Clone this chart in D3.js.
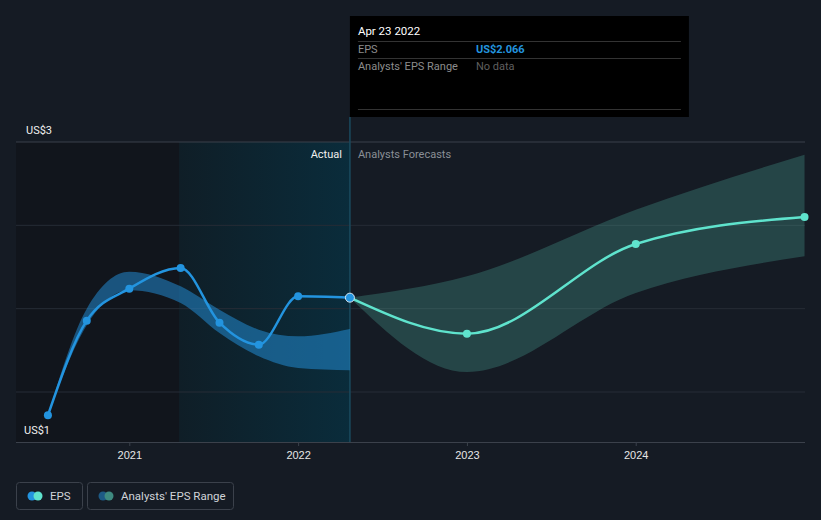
<!DOCTYPE html>
<html><head><meta charset="utf-8">
<script src="https://cdn.jsdelivr.net/npm/d3@7"></script>
<style>
html,body{margin:0;padding:0;background:#151b24;}
svg{display:block;font-family:Roboto,"Open Sans",sans-serif;}
</style></head><body>
<svg id="c" width="821" height="520"></svg>
<script>
// ---- data ----
const actualDates = ["2020-07-09","2020-10-01","2021-01-01","2021-04-22","2021-07-15","2021-10-08","2022-01-01","2022-04-23"];
const actualEPS   = [1.36, 1.928, 2.12, 2.244, 1.916, 1.784, 2.074, 2.066];
const pastRangeDates = ["2020-07-09","2020-10-01","2021-01-01","2021-04-22","2021-07-15","2021-10-08","2022-01-01","2022-04-23"];
const pastRangeLow   = [1.36, 1.90, 2.11, 2.034, 1.854, 1.714, 1.644, 1.63];
const pastRangeHigh  = [1.36, 2.00, 2.222, 2.134, 1.994, 1.874, 1.834, 1.878];
const forecastDates = ["2022-04-23","2023-01-01","2024-01-01","2024-12-31"];
const forecastEPS   = [2.066, 1.85, 2.388, 2.55];
const forecastLow   = [2.066, 1.62, 2.094, 2.314];
const forecastHigh  = [2.066, 2.194, 2.594, 2.924];
const gridValues = [1.5, 2, 2.5, 3];
const yLabels = ["US$3", "US$1"];
const xTickYears = ["2021","2022","2023","2024"];
const legendItems = ["EPS", "Analysts' EPS Range"];
const tooltip = {date:"Apr 23 2022", eps:"US$2.066", range:"No data"};

const parse = d3.timeParse("%Y-%m-%d");
const svg = d3.select("#c");
const L = 16, R = 805, T = 142, B = 442;
const x = d3.scaleTime().domain([parse("2020-05-01"), parse("2025-01-01")]).range([L, R]);
const y = d3.scaleLinear().domain([1.2, 3]).range([B, T]);
const nowDate = parse("2022-04-23");
const pastStart = parse("2021-04-19");

const defs = svg.append("defs");
const g1 = defs.append("linearGradient").attr("id","hl").attr("x1","0").attr("x2","1").attr("y1","0").attr("y2","0");
g1.append("stop").attr("offset","0").attr("stop-color","#0f1e27");
g1.append("stop").attr("offset","1").attr("stop-color","#0a2c3b");

// background regions
svg.append("rect").attr("x", L).attr("y", T).attr("width", x(pastStart)-L).attr("height", B-T).attr("fill","#11151c");
svg.append("rect").attr("x", x(pastStart)).attr("y", T).attr("width", x(nowDate)-x(pastStart)).attr("height", B-T).attr("fill","url(#hl)");

// grid
svg.append("g").selectAll("line").data(gridValues).join("line")
  .attr("x1", L).attr("x2", R).attr("y1", d=>y(d)).attr("y2", d=>y(d))
  .attr("stroke", d=> d===3 ? "#3b414b" : "#262c36").attr("stroke-width",1);

// now line
svg.append("line").attr("x1", x(nowDate)).attr("x2", x(nowDate)).attr("y1", 117).attr("y2", B)
  .attr("stroke","#1a4a5e").attr("stroke-width",1.5);

// x axis
const xAxis = d3.axisBottom(x)
  .tickValues(xTickYears.map(yy=>parse(yy+"-01-01")))
  .tickFormat(d3.timeFormat("%Y")).tickSize(4).tickPadding(5);
const ax = svg.append("g").attr("transform",`translate(0,${B})`).call(xAxis);
ax.select(".domain").attr("stroke","#3b414b").attr("d", `M${L},0.5H${R}`);
ax.selectAll(".tick line").attr("stroke","#3b414b");
ax.selectAll(".tick text").attr("fill","#e6e6e6").attr("font-size",11);

// areas
const pastRange = pastRangeDates.map((d,i)=>({d:parse(d), lo:pastRangeLow[i], hi:pastRangeHigh[i]}));
const fcRange = forecastDates.map((d,i)=>({d:parse(d), lo:forecastLow[i], hi:forecastHigh[i]}));
const area = d3.area().x(d=>x(d.d)).y0(d=>y(d.lo)).y1(d=>y(d.hi)).curve(d3.curveMonotoneX);
svg.append("path").attr("d", area(pastRange)).attr("fill","#2394df").attr("fill-opacity",0.5);
svg.append("path").attr("d", area(fcRange)).attr("fill","#58c4b0").attr("fill-opacity",0.25);

// lines
const act = actualDates.map((d,i)=>({d:parse(d), v:actualEPS[i]}));
const fc = forecastDates.map((d,i)=>({d:parse(d), v:forecastEPS[i]}));
const line = d3.line().x(d=>x(d.d)).y(d=>y(d.v)).curve(d3.curveMonotoneX);
svg.append("path").attr("d", line(fc)).attr("fill","none").attr("stroke","#5fe3cd").attr("stroke-width",2.5);
svg.append("path").attr("d", line(act)).attr("fill","none").attr("stroke","#2394df").attr("stroke-width",2.5);
svg.append("g").selectAll("circle").data(fc.slice(1)).join("circle")
  .attr("cx", d=>x(d.d)).attr("cy", d=>y(d.v)).attr("r",4).attr("fill","#5fe3cd");
svg.append("g").selectAll("circle").data(act.slice(0,-1)).join("circle")
  .attr("cx", d=>x(d.d)).attr("cy", d=>y(d.v)).attr("r",4).attr("fill","#2394df");
const last = act[act.length-1];
svg.append("circle").attr("cx", x(last.d)).attr("cy", y(last.v)).attr("r",4.5)
  .attr("fill","#2394df").attr("stroke","#d8eaf6").attr("stroke-width",1);

// y labels
svg.append("text").attr("x",26).attr("y",134).attr("fill","#f0f0f0").attr("font-size",11).text(yLabels[0]);
svg.append("text").attr("x",24).attr("y",434).attr("fill","#f0f0f0").attr("font-size",11).text(yLabels[1]);

// actual / forecast labels
svg.append("text").attr("x", x(nowDate)-8).attr("y",158).attr("text-anchor","end").attr("fill","#f0f0f0").attr("font-size",11).text("Actual");
svg.append("text").attr("x", x(nowDate)+8).attr("y",158).attr("fill","#8a8f96").attr("font-size",11).text("Analysts Forecasts");

// tooltip
const tx = x(nowDate);
const tt = svg.append("g");
tt.append("rect").attr("x", tx).attr("y",16).attr("width",339).attr("height",101).attr("fill","#000");
tt.append("text").attr("x", tx+8).attr("y",35).attr("fill","#fff").attr("font-size",11.5).text(tooltip.date);
[41.5, 58.5, 109.5].forEach(yy=> tt.append("line").attr("x1",tx+8).attr("x2",tx+331).attr("y1",yy).attr("y2",yy).attr("stroke","#333"));
tt.append("text").attr("x", tx+8).attr("y",53).attr("fill","#8c8c8c").attr("font-size",11).text("EPS");
tt.append("text").attr("x", tx+126).attr("y",53).attr("fill","#2394df").attr("font-size",11).attr("font-weight","bold").text(tooltip.eps);
tt.append("text").attr("x", tx+8).attr("y",70).attr("fill","#8c8c8c").attr("font-size",11).text("Analysts' EPS Range");
tt.append("text").attr("x", tx+126).attr("y",70).attr("fill","#5f5f5f").attr("font-size",11).text(tooltip.range);

// legend
const lg = svg.append("g");
const boxes = [{x:16, w:66, c1:"#2394df", c2:"#5fe3cd"}, {x:87, w:146, c1:"#1d5a85", c2:"#3e8a80"}];
boxes.forEach((b,i)=>{
  lg.append("rect").attr("x",b.x+0.5).attr("y",482.5).attr("width",b.w).attr("height",27).attr("rx",3)
    .attr("fill","none").attr("stroke","#3b414b");
  lg.append("circle").attr("cx",b.x+16).attr("cy",496).attr("r",4.5).attr("fill",b.c1);
  lg.append("circle").attr("cx",b.x+22).attr("cy",496).attr("r",4.5).attr("fill",b.c2);
  lg.append("text").attr("x",b.x+34).attr("y",500).attr("fill","#d0d3d8").attr("font-size",11.5).text(legendItems[i]);
});
</script>
</body></html>
